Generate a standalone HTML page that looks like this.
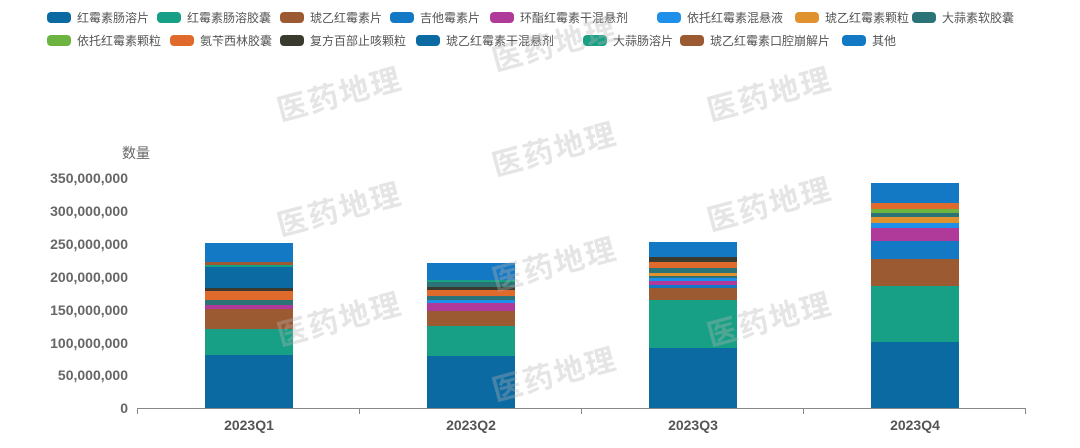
<!DOCTYPE html><html><head><meta charset="utf-8"><style>
body{margin:0;width:1080px;height:448px;background:#fff;overflow:hidden;font-family:"Liberation Sans","Noto Sans CJK SC",sans-serif;position:relative}
.lg{position:absolute;font-size:12px;color:#555;white-space:nowrap;line-height:14px}
.lg i{display:inline-block;width:24px;height:11px;border-radius:4px;vertical-align:-1px;margin-right:6px}
.yl{position:absolute;right:952px;font-size:14px;color:#666;font-weight:bold;text-align:right}
.xl{position:absolute;top:417px;font-size:14px;color:#555;font-weight:bold;width:120px;text-align:center}
.seg{position:absolute}
.wm{position:absolute;font-size:30px;font-weight:bold;color:rgba(180,180,180,0.35);transform:rotate(-15deg);letter-spacing:2px}
</style></head><body>
<div class="lg" style="left:47px;top:11px"><i style="background:#0a6aa1"></i>红霉素肠溶片</div>
<div class="lg" style="left:157px;top:11px"><i style="background:#17a085"></i>红霉素肠溶胶囊</div>
<div class="lg" style="left:280px;top:11px"><i style="background:#9c5a32"></i>琥乙红霉素片</div>
<div class="lg" style="left:390px;top:11px"><i style="background:#1479c4"></i>吉他霉素片</div>
<div class="lg" style="left:490px;top:11px"><i style="background:#b03a9a"></i>环酯红霉素干混悬剂</div>
<div class="lg" style="left:657px;top:11px"><i style="background:#1e90ea"></i>依托红霉素混悬液</div>
<div class="lg" style="left:795px;top:11px"><i style="background:#e0922f"></i>琥乙红霉素颗粒</div>
<div class="lg" style="left:912px;top:11px"><i style="background:#2c7378"></i>大蒜素软胶囊</div>
<div class="lg" style="left:47px;top:34px"><i style="background:#6db33f"></i>依托红霉素颗粒</div>
<div class="lg" style="left:170px;top:34px"><i style="background:#e06a2b"></i>氨苄西林胶囊</div>
<div class="lg" style="left:280px;top:34px"><i style="background:#3a3b2e"></i>复方百部止咳颗粒</div>
<div class="lg" style="left:416px;top:34px"><i style="background:#0a6aa1"></i>琥乙红霉素干混悬剂</div>
<div class="lg" style="left:583px;top:34px"><i style="background:#17a085"></i>大蒜肠溶片</div>
<div class="lg" style="left:680px;top:34px"><i style="background:#9c5a32"></i>琥乙红霉素口腔崩解片</div>
<div class="lg" style="left:842px;top:34px"><i style="background:#1479c4"></i>其他</div>

<div style="position:absolute;left:122px;top:143px;font-size:14px;color:#666">数量</div>
<div class="yl" style="top:170px">350,000,000</div>
<div class="yl" style="top:203px">300,000,000</div>
<div class="yl" style="top:236px">250,000,000</div>
<div class="yl" style="top:269px">200,000,000</div>
<div class="yl" style="top:302px">150,000,000</div>
<div class="yl" style="top:335px">100,000,000</div>
<div class="yl" style="top:367px">50,000,000</div>
<div class="yl" style="top:400px">0</div>

<div id="bars"></div>
<div style="position:absolute;left:137px;top:408px;width:889px;height:1px;background:#888"></div>
<div style="position:absolute;left:137px;top:408px;width:1px;height:6px;background:#888"></div>
<div style="position:absolute;left:359px;top:408px;width:1px;height:6px;background:#888"></div>
<div style="position:absolute;left:581px;top:408px;width:1px;height:6px;background:#888"></div>
<div style="position:absolute;left:803px;top:408px;width:1px;height:6px;background:#888"></div>
<div style="position:absolute;left:1025px;top:408px;width:1px;height:6px;background:#888"></div>
<div class="xl" style="left:189px">2023Q1</div>
<div class="xl" style="left:411px">2023Q2</div>
<div class="xl" style="left:633px">2023Q3</div>
<div class="xl" style="left:855px">2023Q4</div>

<div class="wm" style="left:275px;top:70px">医药地理</div>
<div class="wm" style="left:490px;top:20px">医药地理</div>
<div class="wm" style="left:705px;top:70px">医药地理</div>
<div class="wm" style="left:490px;top:125px">医药地理</div>
<div class="wm" style="left:275px;top:185px">医药地理</div>
<div class="wm" style="left:705px;top:180px">医药地理</div>
<div class="wm" style="left:275px;top:295px">医药地理</div>
<div class="wm" style="left:490px;top:240px">医药地理</div>
<div class="wm" style="left:705px;top:295px">医药地理</div>
<div class="wm" style="left:490px;top:350px">医药地理</div>
<script>
var C={a:"#0a6aa1",b:"#17a085",c:"#9c5a32",d:"#1479c4",e:"#b03a9a",f:"#1e90ea",g:"#e0922f",h:"#2c7378",i:"#6db33f",j:"#e06a2b",k:"#3a3b2e"};
var B=[[205,[[408,355,'a'],[355,329,'b'],[329,309,'c'],[309,305,'e'],[305,300,'h'],[300,291,'j'],[291,288,'k'],[288,267,'a'],[267,265,'b'],[265,262,'c'],[262,243,'d']]],
[427,[[408,356,'a'],[356,326,'b'],[326,311,'c'],[311,303,'e'],[303,300,'f'],[300,296,'h'],[296,290,'j'],[290,287,'k'],[287,282,'h'],[282,280,'b'],[280,263,'d']]],
[649,[[408,348,'a'],[348,300,'b'],[300,288,'c'],[288,285,'d'],[285,281,'e'],[281,278,'f'],[278,276,'h'],[276,273,'g'],[273,268,'h'],[268,262,'j'],[262,257,'k'],[257,242,'d']]],
[871,[[408,342,'a'],[342,286,'b'],[286,259,'c'],[259,241,'d'],[241,228,'e'],[228,223,'f'],[223,217,'g'],[217,213,'h'],[213,209,'i'],[209,203,'j'],[203,183,'d']]]];
var h='';B.forEach(function(b){b[1].forEach(function(s){h+='<div class="seg" style="left:'+b[0]+'px;top:'+s[1]+'px;width:88px;height:'+(s[0]-s[1])+'px;background:'+C[s[2]]+'"></div>';});});
document.getElementById('bars').innerHTML=h;
</script>
</body></html>
